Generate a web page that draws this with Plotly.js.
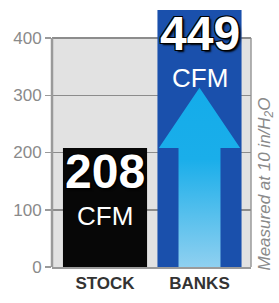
<!DOCTYPE html>
<html><head><meta charset="utf-8">
<script src="https://cdn.plot.ly/plotly-3.0.1.min.js"></script>
<style>html,body{margin:0;padding:0;background:#fff}#chart{width:279px;height:303px}</style>
</head><body><div id="chart"></div>
<script>
const categories = ['STOCK', 'BANKS'];
const cfmValues = [208, 449];
const valueUnits = ['CFM', 'CFM'];
const yTicks = [0, 100, 200, 300, 400];
const noteText = 'Measured at 10 in/H<sub>2</sub>O';

const xPos = categories.map((c, i) => i);
const yTop = yTicks[yTicks.length - 1];

// arrow on BANKS bar: shaft up to the stock value, head above it
const bi = 1;
const headBase = cfmValues[0];
const headTip = headBase + 105;
const shaftHalf = 0.222, headHalf = 0.43;
const ax = [xPos[bi]-shaftHalf, xPos[bi]-shaftHalf, xPos[bi]-headHalf, xPos[bi], xPos[bi]+headHalf, xPos[bi]+shaftHalf, xPos[bi]+shaftHalf, xPos[bi]-shaftHalf];
const ay = [0, headBase, headBase, headTip, headBase, headBase, 0, 0];

const traces = [
  {type:'bar', x:xPos, y:cfmValues, width:0.89,
   marker:{color:['#070707','#1a50ac'], line:{width:0}}, hoverinfo:'none'},
  {type:'scatter', mode:'lines', x:ax, y:ay, fill:'toself',
   line:{width:0, color:'rgba(0,0,0,0)'},
   fillgradient:{type:'vertical', colorscale:[[0,'#8fd0f0'],[0.6,'#1aaeea'],[1,'#14acea']]},
   hoverinfo:'none'}
];

const shadow = '1px 1px 0 #000, -1px -1px 0 #000, 1px -1px 0 #000, -1px 1px 0 #000, 2px 2px 2px #000';
const annotations = [];
xPos.forEach((x, i) => {
  annotations.push({x:x, y:cfmValues[i], xref:'x', yref:'y', text:String(cfmValues[i]),
    showarrow:false, yanchor:'top', yshift:5,
    font:{family:'Liberation Sans, Arial, sans-serif', size:48, color:'#fff', weight:700, shadow:shadow}});
  annotations.push({x:x, y:cfmValues[i], xref:'x', yref:'y', text:valueUnits[i],
    showarrow:false, yanchor:'top', yshift:-51,
    font:{family:'Liberation Sans Narrow, Liberation Sans, Arial, sans-serif', size:26, color:'#fff'}});
});
annotations.push({xref:'paper', yref:'y', x:1, y:0, text:noteText, showarrow:false,
  textangle:-90, xanchor:'left', yanchor:'bottom', xshift:1, yshift:-6,
  font:{family:'Liberation Sans, Arial, sans-serif', size:17, color:'#8a8a8a', style:'italic'}});

const layout = {
  width:279, height:303,
  margin:{l:52, r:28, t:4, b:36, pad:0},
  paper_bgcolor:'#fff', plot_bgcolor:'#fff',
  showlegend:false,
  xaxis:{type:'linear', range:[-0.561, 1.545], tickvals:xPos, ticktext:categories,
    showgrid:false, zeroline:false, showline:true, linecolor:'#9a9a9a', linewidth:2,
    ticks:'', tickfont:{family:'Liberation Sans, Arial, sans-serif', size:17, color:'#333', weight:700},
    fixedrange:true},
  yaxis:{range:[0, 459.4], tickvals:yTicks, ticktext:yTicks.map(String),
    showgrid:true, gridcolor:'#8c8c8c', gridwidth:1.5, zeroline:false, showline:false,
    ticks:'outside', ticklen:6, tickcolor:'#9a9a9a', tickwidth:1.5,
    tickfont:{family:'Liberation Sans, Arial, sans-serif', size:17, color:'#8a8a8a'},
    fixedrange:true},
  shapes:[
    {type:'rect', xref:'paper', yref:'y', x0:0, x1:1, y0:0, y1:yTop, fillcolor:'#e2e2e2', line:{width:0}, layer:'below'},
    {type:'line', xref:'paper', yref:'y', x0:0, x1:0, y0:0, y1:yTop, line:{color:'#9a9a9a', width:2.5}, layer:'above'},
    {type:'line', xref:'paper', yref:'y', x0:1, x1:1, y0:0, y1:yTop, line:{color:'#9a9a9a', width:1.5}, layer:'below'}
  ],
  annotations:annotations
};
Plotly.newPlot('chart', traces, layout, {displayModeBar:false, staticPlot:true});
</script></body></html>
